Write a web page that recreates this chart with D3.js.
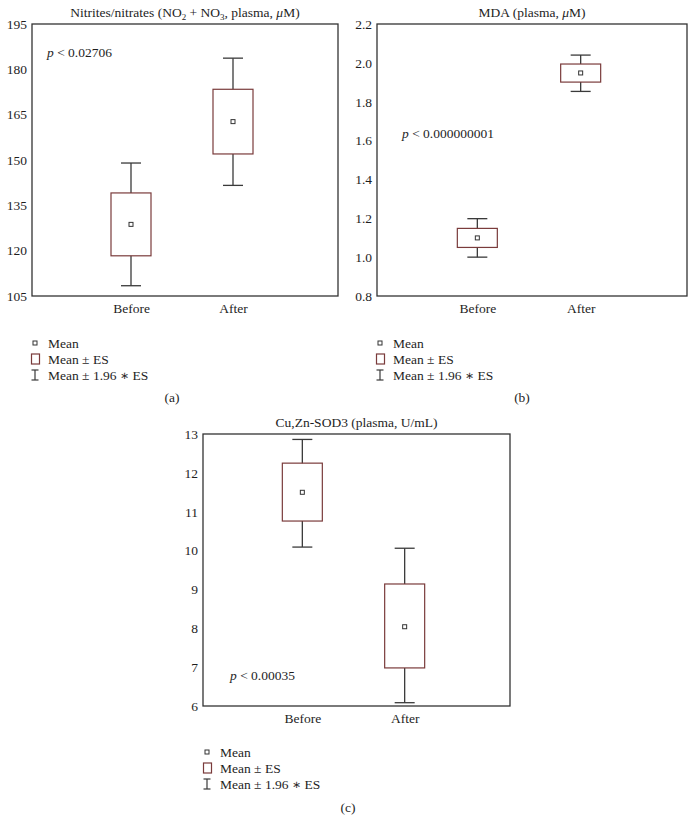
<!DOCTYPE html>
<html>
<head>
<meta charset="utf-8">
<script src="https://cdn.jsdelivr.net/npm/d3@7"></script>
<style>
  body { margin: 0; background: #fff; }
  text { font-family: "Liberation Serif", "DejaVu Serif", serif; fill: #1e1e1e; }
</style>
</head>
<body>
<script>
// categories shared by all three panels
const categories = ["Before", "After"];

// (a) nitrites/nitrates
const nitTicks = [105, 120, 135, 150, 165, 180, 195];
const nitLow95 = [108.4, 141.6];
const nitLowSE = [118.3, 152.0];
const nitMean = [128.7, 162.7];
const nitHighSE = [139.1, 173.4];
const nitHigh95 = [149.0, 183.7];

// (b) MDA
const mdaTicks = [0.8, 1.0, 1.2, 1.4, 1.6, 1.8, 2.0, 2.2];
const mdaLow95 = [1.0, 1.853];
const mdaLowSE = [1.05, 1.901];
const mdaMean = [1.099, 1.948];
const mdaHighSE = [1.148, 1.994];
const mdaHigh95 = [1.198, 2.040];

// (c) Cu,Zn-SOD3
const sodTicks = [6, 7, 8, 9, 10, 11, 12, 13];
const sodLow95 = [10.09, 6.085];
const sodLowSE = [10.76, 6.98];
const sodMean = [11.5, 8.04];
const sodHighSE = [12.25, 9.14];
const sodHigh95 = [12.86, 10.06];

const legendLabels = ["Mean", "Mean \u00b1 ES", "Mean \u00b1 1.96 \u2217 ES"];

const boxColor = "#7a3b3b";
const lineColor = "#3a3a3a";

const width = 696, height = 822;
const svg = d3.select("body").append("svg")
  .attr("width", width)
  .attr("height", height);

function rows(lo95, loSE, mean, hiSE, hi95) {
  return categories.map((c, i) => ({
    cat: c, lo95: lo95[i], loSE: loSE[i], mean: mean[i], hiSE: hiSE[i], hi95: hi95[i]
  }));
}

const panels = [
  {
    title: ["Nitrites/nitrates (NO", "2", " + NO", "3", ", plasma, ", "\u03bc", "M)"],
    left: 32, right: 338, top: 24, bottom: 296,
    ticks: nitTicks, fmt: d3.format("d"),
    data: rows(nitLow95, nitLowSE, nitMean, nitHighSE, nitHigh95),
    p: "0.02706", px: 47, py: 57,
    legendX: 35, legendY: 343, caption: "(a)", captionX: 172, captionY: 402
  },
  {
    title: ["MDA (plasma, ", "\u03bc", "M)"],
    left: 377, right: 687, top: 24, bottom: 296,
    ticks: mdaTicks, fmt: d3.format(".1f"),
    data: rows(mdaLow95, mdaLowSE, mdaMean, mdaHighSE, mdaHigh95),
    p: "0.000000001", px: 402, py: 138,
    legendX: 380, legendY: 343, caption: "(b)", captionX: 522, captionY: 402
  },
  {
    title: ["Cu,Zn-SOD3 (plasma, U/mL)"],
    left: 203, right: 510, top: 434, bottom: 706,
    ticks: sodTicks, fmt: d3.format("d"),
    data: rows(sodLow95, sodLowSE, sodMean, sodHighSE, sodHigh95),
    p: "0.00035", px: 230, py: 680,
    legendX: 207, legendY: 752, caption: "(c)", captionX: 348, captionY: 812
  }
];

panels.forEach(drawPanel);

function drawPanel(p) {
  const g = svg.append("g");
  const y = d3.scaleLinear()
    .domain(d3.extent(p.ticks))
    .range([p.bottom, p.top]);
  const x = d3.scalePoint()
    .domain(categories)
    .range([p.left - 3, p.right - 3])
    .padding(1);

  // frame
  g.append("rect")
    .attr("x", p.left).attr("y", p.top)
    .attr("width", p.right - p.left).attr("height", p.bottom - p.top)
    .attr("fill", "none").attr("stroke", "#333").attr("stroke-width", 1.3);

  // y axis
  const ya = g.append("g")
    .attr("transform", `translate(${p.left},0)`)
    .call(d3.axisLeft(y).tickValues(p.ticks).tickFormat(p.fmt).tickSize(0).tickPadding(5));
  ya.select(".domain").remove();
  ya.selectAll("text").style("font-size", "13.5px").attr("font-family", "Liberation Serif").attr("fill", "#1e1e1e");

  // x axis
  const xa = g.append("g")
    .attr("transform", `translate(0,${p.bottom})`)
    .call(d3.axisBottom(x).tickSize(0).tickPadding(7));
  xa.select(".domain").remove();
  xa.selectAll("text").style("font-size", "13.5px").attr("font-family", "Liberation Serif").attr("fill", "#1e1e1e");

  // title
  const t = g.append("text")
    .attr("x", (p.left + p.right) / 2)
    .attr("y", p.top - 7)
    .attr("text-anchor", "middle")
    .style("font-size", "13.5px");
  p.title.forEach((s, i) => {
    const ts = t.append("tspan").text(s);
    if (s === "2" || s === "3") {
      ts.attr("dy", 3).style("font-size", "9px");
    } else if (i > 0 && (p.title[i - 1] === "2" || p.title[i - 1] === "3")) {
      ts.attr("dy", -3);
    }
    if (s === "\u03bc") ts.style("font-style", "italic");
  });

  // p value
  const pt = g.append("text")
    .attr("x", p.px).attr("y", p.py)
    .style("font-size", "13.5px");
  pt.append("tspan").text("p").style("font-style", "italic");
  pt.append("tspan").text(" < " + p.p);

  // boxes
  const boxW = 40, capW = 20;
  const item = g.selectAll(".item")
    .data(p.data)
    .join("g")
    .attr("class", "item");

  item.append("line")
    .attr("x1", d => x(d.cat)).attr("x2", d => x(d.cat))
    .attr("y1", d => y(d.hi95)).attr("y2", d => y(d.hiSE))
    .attr("stroke", lineColor).attr("stroke-width", 1.3);
  item.append("line")
    .attr("x1", d => x(d.cat)).attr("x2", d => x(d.cat))
    .attr("y1", d => y(d.loSE)).attr("y2", d => y(d.lo95))
    .attr("stroke", lineColor).attr("stroke-width", 1.3);
  item.append("line")
    .attr("x1", d => x(d.cat) - capW / 2).attr("x2", d => x(d.cat) + capW / 2)
    .attr("y1", d => y(d.hi95)).attr("y2", d => y(d.hi95))
    .attr("stroke", lineColor).attr("stroke-width", 1.3);
  item.append("line")
    .attr("x1", d => x(d.cat) - capW / 2).attr("x2", d => x(d.cat) + capW / 2)
    .attr("y1", d => y(d.lo95)).attr("y2", d => y(d.lo95))
    .attr("stroke", lineColor).attr("stroke-width", 1.3);
  item.append("rect")
    .attr("x", d => x(d.cat) - boxW / 2)
    .attr("y", d => y(d.hiSE))
    .attr("width", boxW)
    .attr("height", d => y(d.loSE) - y(d.hiSE))
    .attr("fill", "none").attr("stroke", boxColor).attr("stroke-width", 1.2);
  item.append("rect")
    .attr("x", d => x(d.cat) - 2)
    .attr("y", d => y(d.mean) - 2)
    .attr("width", 4).attr("height", 4)
    .attr("fill", "#fff").attr("stroke", "#333").attr("stroke-width", 1);

  // legend
  const lg = g.append("g").attr("transform", `translate(${p.legendX},${p.legendY})`);
  const rowH = 16;
  lg.append("rect").attr("x", -2).attr("y", -2).attr("width", 4).attr("height", 4)
    .attr("fill", "#fff").attr("stroke", "#333").attr("stroke-width", 1);
  lg.append("rect").attr("x", -3.5).attr("y", rowH - 5).attr("width", 8).attr("height", 10)
    .attr("fill", "none").attr("stroke", boxColor).attr("stroke-width", 1.2);
  const ib = lg.append("g").attr("transform", `translate(0,${rowH * 2})`)
    .attr("stroke", lineColor).attr("stroke-width", 1.2);
  ib.append("line").attr("x1", -3.5).attr("x2", 3.5).attr("y1", -5).attr("y2", -5);
  ib.append("line").attr("x1", 0).attr("x2", 0).attr("y1", -5).attr("y2", 5);
  ib.append("line").attr("x1", -3.5).attr("x2", 3.5).attr("y1", 5).attr("y2", 5);

  lg.selectAll(".lbl")
    .data(legendLabels)
    .join("text")
    .attr("class", "lbl")
    .attr("x", 13)
    .attr("y", (d, i) => i * rowH + 4.5)
    .style("font-size", "13.5px")
    .text(d => d);

  g.append("text")
    .attr("x", p.captionX).attr("y", p.captionY)
    .attr("text-anchor", "middle")
    .style("font-size", "13.5px")
    .text(p.caption);
}
</script>
</body>
</html>
